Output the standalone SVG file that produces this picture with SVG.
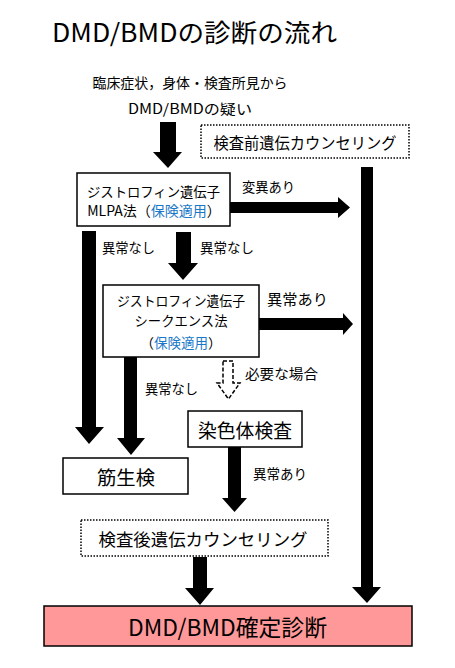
<svg xmlns="http://www.w3.org/2000/svg" width="455" height="668" viewBox="0 0 455 668">
<style>
text{font-family:"Noto Sans CJK JP","Noto Sans",sans-serif;fill:#000;dominant-baseline:central}
.c{text-anchor:middle}
.box{fill:#fff;stroke:#000;stroke-width:1.5}
.dot{fill:#fff;stroke:#000;stroke-width:1.5;stroke-dasharray:1.5 1.5}
.arr{fill:#000;stroke:none}
.dash{fill:#fff;stroke:#000;stroke-width:1.5;stroke-dasharray:4 2}
.blue{fill:#1a78c8}
</style>
<rect width="455" height="668" fill="#fff"/>
<text x="52" y="31" font-size="25" textLength="285" lengthAdjust="spacingAndGlyphs">DMD/BMDの診断の流れ</text>
<text class="c" x="190" y="82" font-size="14" textLength="195" lengthAdjust="spacingAndGlyphs">臨床症状，身体・検査所見から</text>
<text class="c" x="190" y="108" font-size="14" textLength="124" lengthAdjust="spacingAndGlyphs">DMD/BMDの疑い</text>

<g id="connectors">
<polygon class="arr" points="160,122 176,122 176,152 182,152 168,168 153,152 160,152"/>
<polygon class="arr" points="361,167 373,167 373,587 381,587 367,603 352,587 361,587"/>
<polygon class="arr" points="230,202 338,202 338,197 350,207.5 338,218 338,213 230,213"/>
<polygon class="arr" points="82,231 96,231 96,427 104,427 89,444 75,427 82,427"/>
<polygon class="arr" points="176,232 191,232 191,263 198,263 183,280 168,263 176,263"/>
<polygon class="arr" points="259,318 343,318 343,313 353,324 343,335 343,330 259,330"/>
<polygon class="arr" points="124,357 137,357 137,438 145,438 131,455 117,438 124,438"/>
<polygon class="dash" points="223,361 233,361 233,383 240,383 228.5,399 217,383 223,383"/>
<polygon class="arr" points="228,447 241,447 241,498 247,498 234.5,512 222,498 228,498"/>
<polygon class="arr" points="193,557 207,557 207,588 214,588 200,605 185,588 193,588"/>
<text x="242" y="186" font-size="13.5" textLength="53" lengthAdjust="spacingAndGlyphs">変異あり</text>
<text x="102" y="247" font-size="13.5" textLength="53" lengthAdjust="spacingAndGlyphs">異常なし</text>
<text x="200" y="247" font-size="13.5" textLength="54" lengthAdjust="spacingAndGlyphs">異常なし</text>
<text x="267" y="298" font-size="15" textLength="61" lengthAdjust="spacingAndGlyphs">異常あり</text>
<text x="145" y="388" font-size="13.5" textLength="53" lengthAdjust="spacingAndGlyphs">異常なし</text>
<text x="245" y="373" font-size="14" textLength="73" lengthAdjust="spacingAndGlyphs">必要な場合</text>
<text x="253" y="473" font-size="13.5" textLength="54" lengthAdjust="spacingAndGlyphs">異常あり</text>
</g>

<g id="pre-counseling">
<rect class="dot" x="201" y="125" width="208" height="33"/>
<text class="c" x="305" y="142" font-size="16" textLength="183" lengthAdjust="spacingAndGlyphs">検査前遺伝カウンセリング</text>
</g>

<g id="mlpa">
<rect class="box" x="77" y="173" width="153" height="53"/>
<text class="c" x="153.5" y="191" font-size="13.5" textLength="133" lengthAdjust="spacingAndGlyphs">ジストロフィン遺伝子</text>
<text class="c" x="154" y="210" font-size="14">MLPA法（<tspan class="blue">保険適用</tspan>）</text>
</g>

<g id="sequence">
<rect class="box" x="103" y="285" width="156" height="72"/>
<text class="c" x="181" y="300" font-size="13.5" textLength="128" lengthAdjust="spacingAndGlyphs">ジストロフィン遺伝子</text>
<text class="c" x="181" y="320" font-size="13.5" textLength="93" lengthAdjust="spacingAndGlyphs">シークエンス法</text>
<text class="c" x="181" y="342" font-size="13.5">（<tspan class="blue">保険適用</tspan>）</text>
</g>

<g id="chromosome">
<rect class="box" x="188" y="411" width="114" height="36"/>
<text class="c" x="245" y="429" font-size="19" textLength="94" lengthAdjust="spacingAndGlyphs">染色体検査</text>
</g>

<g id="biopsy">
<rect class="box" x="63" y="458" width="125" height="36"/>
<text class="c" x="126" y="476" font-size="19" textLength="58" lengthAdjust="spacingAndGlyphs">筋生検</text>
</g>

<g id="post-counseling">
<rect class="dot" x="81" y="520" width="247" height="36"/>
<text class="c" x="203" y="538" font-size="17.5" textLength="209" lengthAdjust="spacingAndGlyphs">検査後遺伝カウンセリング</text>
</g>

<g id="diagnosis">
<rect x="44" y="606" width="368" height="40" fill="#ff9999" stroke="#000" stroke-width="1.5"/>
<text class="c" x="227.5" y="626" font-size="23" textLength="199" lengthAdjust="spacingAndGlyphs">DMD/BMD確定診断</text>
</g>
</svg>
